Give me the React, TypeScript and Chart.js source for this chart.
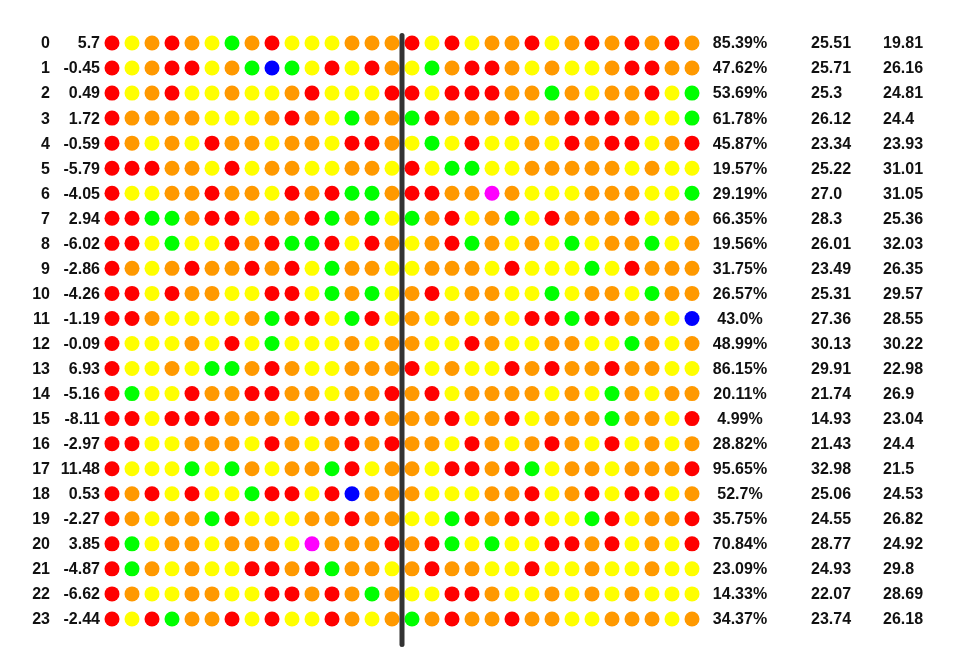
import React, { useEffect, useRef } from "react";
import { Chart, registerables } from "chart.js";

Chart.register(...registerables);

// ---- data ----
const rowLabels = ["0","1","2","3","4","5","6","7","8","9","10","11","12","13","14","15","16","17","18","19","20","21","22","23"];
const rowValues = ["5.7","-0.45","0.49","1.72","-0.59","-5.79","-4.05","2.94","-6.02","-2.86","-4.26","-1.19","-0.09","6.93","-5.16","-8.11","-2.97","11.48","0.53","-2.27","3.85","-4.87","-6.62","-2.44"];
const percents = ["85.39%","47.62%","53.69%","61.78%","45.87%","19.57%","29.19%","66.35%","19.56%","31.75%","26.57%","43.0%","48.99%","86.15%","20.11%","4.99%","28.82%","95.65%","52.7%","35.75%","70.84%","23.09%","14.33%","34.37%"];
const colA = ["25.51","25.71","25.3","26.12","23.34","25.22","27.0","28.3","26.01","23.49","25.31","27.36","30.13","29.91","21.74","14.93","21.43","32.98","25.06","24.55","28.77","24.93","22.07","23.74"];
const colB = ["19.81","26.16","24.81","24.4","23.93","31.01","31.05","25.36","32.03","26.35","29.57","28.55","30.22","22.98","26.9","23.04","24.4","21.5","24.53","26.82","24.92","29.8","28.69","26.18"];

// dot colour codes: R red, O orange, Y yellow, G green, B blue, M magenta
const leftDots = [
  "RYOROYGORYYYOOO",
  "RYORRYOGBGYRYRO",
  "RYORYYOYYORYYYR",
  "ROOOOYYYOROYGOO",
  "ROYOYROOYOOYRRO",
  "RRROOYRYOOYYOOY",
  "RYYOOROOYRORGGO",
  "RRGGORRYOORGOGY",
  "RRYGYYRORGGRYRO",
  "ROYOROORORYGOOY",
  "RRYROOYYRRYGOGY",
  "RROYYYYOGRRYGRY",
  "RYYYOYRYGYYYOYO",
  "RYYOYGGOROYYOOO",
  "RGYYROORROOYOOR",
  "RRYRRROOOYRRRRO",
  "RRYYOOOYROYOROR",
  "RYYYGYGOYOOGRYO",
  "RORYRYYGRRYRBOO",
  "ROYOOGRYYYOOROO",
  "RGYOOYOOOYMOOOR",
  "RGOYOYYRRORGOOY",
  "ROYYOOYYRROROGO",
  "RYRGOORYRYYROYO",
];
const rightDots = [
  "RYRYOORYORORORO",
  "YGORROYOYYORROO",
  "RYRRROOGOYOORYG",
  "GROOORYORRROYYG",
  "YGYRYYOYRORRYOR",
  "RYGGYYOOOOOYOYY",
  "RROOMOYYYOOOYYG",
  "GORYOGYROOORYOO",
  "YORGOYOYGYOOGYO",
  "YOOOYRYYYGYROOO",
  "ORYOOYYGYOOYGOO",
  "OYOYOYRRGRROOYB",
  "OYYROYYOOYYGOYO",
  "RYOYYROROOROOYY",
  "ORYOOOOYOYGOYOO",
  "OORYORYOOOGOOYR",
  "OOYROYOROYRYOYO",
  "OYRRORGYOOYOOOR",
  "OYYYOORYORYRRYO",
  "YYGRORRYYGRYOOR",
  "ORGYGYYRRORYOYR",
  "OROOYYRYYOYYOYY",
  "YYRROYYOYOYOYYY",
  "GOROOROOYYOOOYO",
];

const colorMap: Record<string, string> = {
  R: "#ff0000",
  O: "#ff9900",
  Y: "#ffff00",
  G: "#00ff00",
  B: "#0000ff",
  M: "#ff00ff",
};

// column positions in "dot column" units
const indexColRight = -3.1;
const valueColRight = -0.6;
const pctColCenter = 31.4;
const colALeft = 34.95;
const colBLeft = 38.55;

export default function App() {
  const ref = useRef<HTMLCanvasElement | null>(null);

  useEffect(() => {
    if (!ref.current) return;
    const pts: { x: number; y: number }[] = [];
    const cols: string[] = [];
    const nLeft = leftDots[0].length;
    leftDots.forEach((s, r) => {
      s.split("").forEach((c, k) => {
        pts.push({ x: k, y: r });
        cols.push(colorMap[c]);
      });
    });
    rightDots.forEach((s, r) => {
      s.split("").forEach((c, k) => {
        pts.push({ x: nLeft + k, y: r });
        cols.push(colorMap[c]);
      });
    });

    const nRows = rowLabels.length;
    const textPlugin = {
      id: "textCols",
      afterDatasetsDraw(chart: any) {
        const { ctx, scales } = chart;
        const xs = scales.x;
        const ys = scales.y;
        ctx.save();
        // divider
        const dx = xs.getPixelForValue(nLeft - 0.5);
        ctx.beginPath();
        ctx.strokeStyle = "#333333";
        ctx.lineWidth = 5;
        ctx.lineCap = "round";
        ctx.moveTo(dx, ys.getPixelForValue(-0.3));
        ctx.lineTo(dx, ys.getPixelForValue(nRows - 1 + 1.02));
        ctx.stroke();

        ctx.fillStyle = "#111111";
        ctx.font = "bold 16px 'Liberation Sans', Arial, sans-serif";
        ctx.textBaseline = "middle";
        for (let r = 0; r < nRows; r++) {
          const yy = ys.getPixelForValue(r) + 1;
          ctx.textAlign = "right";
          ctx.fillText(rowLabels[r], xs.getPixelForValue(indexColRight), yy);
          ctx.fillText(rowValues[r], xs.getPixelForValue(valueColRight), yy);
          ctx.textAlign = "center";
          ctx.fillText(percents[r], xs.getPixelForValue(pctColCenter), yy);
          ctx.textAlign = "left";
          ctx.fillText(colA[r], xs.getPixelForValue(colALeft), yy);
          ctx.fillText(colB[r], xs.getPixelForValue(colBLeft), yy);
        }
        ctx.restore();
      },
    };

    const chart = new Chart(ref.current, {
      type: "scatter",
      data: {
        datasets: [
          {
            data: pts,
            pointRadius: 7.5,
            pointHoverRadius: 7.5,
            pointBackgroundColor: cols,
            pointBorderWidth: 0,
            pointBorderColor: "rgba(0,0,0,0)",
            clip: false as any,
          },
        ],
      },
      options: {
        animation: false,
        responsive: false,
        devicePixelRatio: 1,
        layout: { padding: 0, autoPadding: false } as any,
        plugins: {
          legend: { display: false },
          tooltip: { enabled: false },
        },
        events: [],
        scales: {
          x: { type: "linear", display: false, min: -5.6, max: 42.9 },
          y: { type: "linear", display: false, reverse: true, min: -1.717, max: 24.12 },
        },
      },
      plugins: [textPlugin],
    });
    return () => chart.destroy();
  }, []);

  return (
    <div style={{ position: "absolute", left: 0, top: 0, width: 970, height: 647, background: "#fff" }}>
      <canvas ref={ref} width={970} height={647} style={{ width: 970, height: 647 }} />
    </div>
  );
}
